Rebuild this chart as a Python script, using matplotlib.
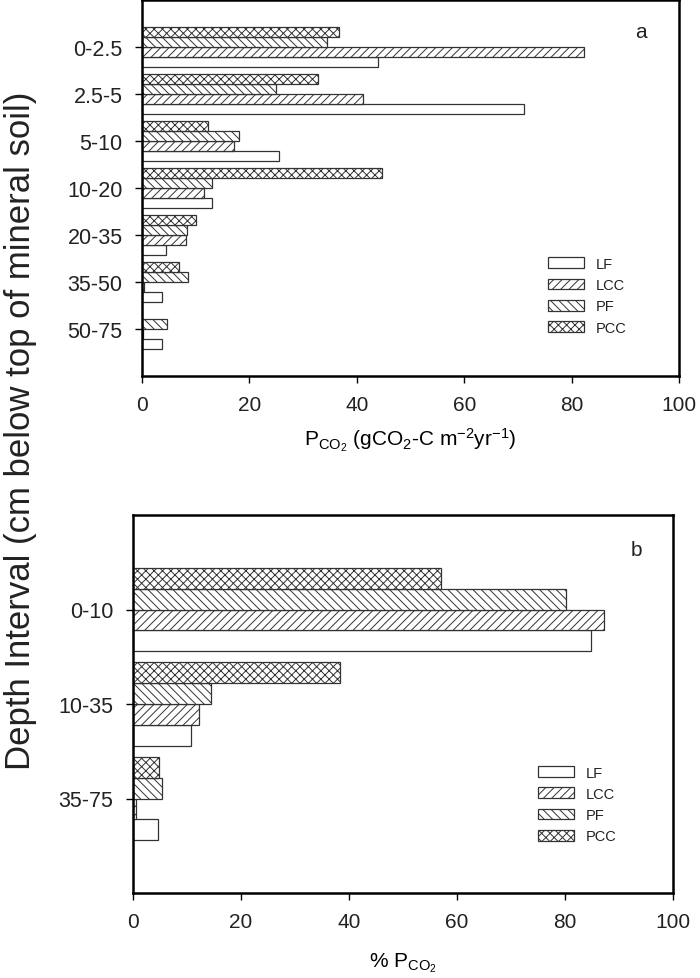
import matplotlib
matplotlib.use("Agg")
import matplotlib.pyplot as plt
import numpy as np

plt.rcParams['font.family'] = ['Liberation Sans', 'DejaVu Sans']
plt.rcParams['mathtext.fontset'] = 'custom'
plt.rcParams['mathtext.rm'] = 'Liberation Sans'
plt.rcParams['mathtext.it'] = 'Liberation Sans'
plt.rcParams['hatch.linewidth'] = 0.7
plt.rcParams['text.color'] = '#222222'
plt.rcParams['xtick.labelcolor'] = '#222222'
plt.rcParams['ytick.labelcolor'] = '#222222'

# ---- data ----
series = ["LF", "LCC", "PF", "PCC"]
hatches = ["", "////", "\\\\\\\\", "xxxx"]

depth_a = ["0-2.5", "2.5-5", "5-10", "10-20", "20-35", "35-50", "50-75"]
lf_a = [43.9, 71.2, 25.5, 13.0, 4.5, 3.8, 3.7]
lcc_a = [82.3, 41.2, 17.2, 11.5, 8.2, 0.3, 0.2]
pf_a = [34.5, 24.9, 18.1, 13.0, 8.4, 8.6, 4.6]
pcc_a = [36.7, 32.7, 12.2, 44.7, 10.0, 6.8, 0.0]

depth_b = ["0-10", "10-35", "35-75"]
lf_b = [84.9, 10.7, 4.6]
lcc_b = [87.3, 12.3, 0.5]
pf_b = [80.2, 14.4, 5.4]
pcc_b = [57.1, 38.3, 4.8]

xticks = [0, 20, 40, 60, 80, 100]

fig = plt.figure(figsize=(7.0, 9.79), dpi=100)
ax1 = fig.add_axes([142/700, 1-377/979, 537/700, 376/979])
ax2 = fig.add_axes([133/700, 1-894/979, 540/700, 378/979])

def draw(ax, cats, vals, h, letter, xlabel, leg_anchor, letter_pos, labelpad):
    y = np.arange(len(cats))
    offsets = [1.5, 0.5, -0.5, -1.5]
    handles = []
    for v, hatch, off, name in zip(vals, hatches, offsets, series):
        b = ax.barh(y + off*h, v, height=h, color='white', edgecolor='#333333',
                    hatch=hatch, linewidth=0.9, label=name)
        handles.append(b)
    ax.set_ylim(len(cats), -1)
    ax.set_xlim(0, 100)
    ax.set_yticks(y)
    ax.set_yticklabels(cats)
    ax.set_xticks(xticks)
    ax.tick_params(axis='x', direction='out', length=5, width=1, labelsize=15, pad=9)
    ax.tick_params(axis='y', direction='out', length=5, width=1, labelsize=15.5, pad=9)
    for s in ax.spines.values():
        s.set_linewidth(1.8)
    ax.set_xlabel(xlabel, fontsize=15, labelpad=labelpad)
    ax.text(letter_pos[0], letter_pos[1], letter, transform=ax.transAxes, fontsize=15,
            ha='center', va='center')
    ax.legend(handles=handles, loc='upper left', bbox_to_anchor=leg_anchor, frameon=False,
              fontsize=10.5, handlelength=2.5, handleheight=0.75, labelspacing=0.5,
              handletextpad=0.8, borderpad=0, borderaxespad=0)

draw(ax1, depth_a, [lf_a, lcc_a, pf_a, pcc_a], 0.215, 'a',
     r'$\mathrm{P_{CO_2}}$ $\mathrm{(gCO_2}$-$\mathrm{C\ m^{-2}yr^{-1})}$', (0.756, 0.317),
     (0.93, 0.915), 8)
draw(ax2, depth_b, [lf_b, lcc_b, pf_b, pcc_b], 0.22, 'b',
     r'% $\mathrm{P_{CO_2}}$', (0.75, 0.337), (0.933, 0.91), 14)

fig.text(0.03, 1-431/979, 'Depth Interval (cm below top of mineral soil)', rotation=90,
         fontsize=25, ha='center', va='center')

fig.savefig('out.png', dpi=100)
